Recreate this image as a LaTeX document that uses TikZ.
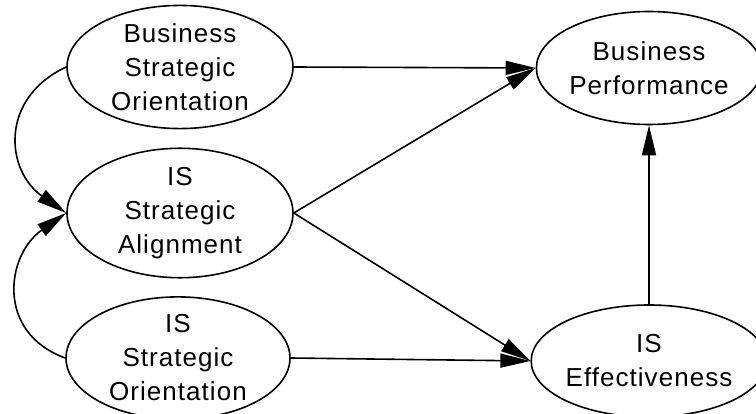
\documentclass[tikz,border=0pt]{standalone}
\usepackage{fontspec}
\setmainfont{Liberation Sans}[LetterSpace=4]
\usetikzlibrary{shapes.geometric,arrows.meta}
\begin{document}
\begin{tikzpicture}[x=1pt,y=1pt,
  ell/.style={draw, ellipse, line width=1.6pt, inner sep=0pt, align=center,
    font=\fontsize{26}{34}\selectfont},
  conn/.style={line width=1.6pt, -{Triangle[length=30pt,width=14pt]}}]
\useasboundingbox (0,0) rectangle (756,413);
\node[ell, minimum width=226pt, minimum height=114pt] (bso) at (180,346) {Business\\Strategic\\Orientation};
\node[ell, minimum width=226pt, minimum height=114pt] (issa) at (180,200) {IS\\Strategic\\Alignment};
\node[ell, minimum width=224pt, minimum height=114pt] (isso) at (178,55) {IS\\Strategic\\Orientation};
\node[ell, minimum width=212pt, minimum height=113pt] (bp) at (649,345) {Business\\Performance};
\node[ell, minimum width=214pt, minimum height=112pt] (ise) at (649,52) {IS\\Effectiveness};
\draw[conn] (bso.east) -- (bp.west);
\draw[conn] (issa.east) -- (bp.west);
\draw[conn] (issa.east) -- (ise.west);
\draw[conn] (isso.east) -- (ise.west);
\draw[conn] (ise.north) -- (bp.south);
\draw[conn] (bso.west) to[out=205, in=145, looseness=1.3] (issa.west);
\draw[conn] (isso.west) to[out=160, in=215, looseness=1.3] (issa.west);
\end{tikzpicture}
\end{document}
